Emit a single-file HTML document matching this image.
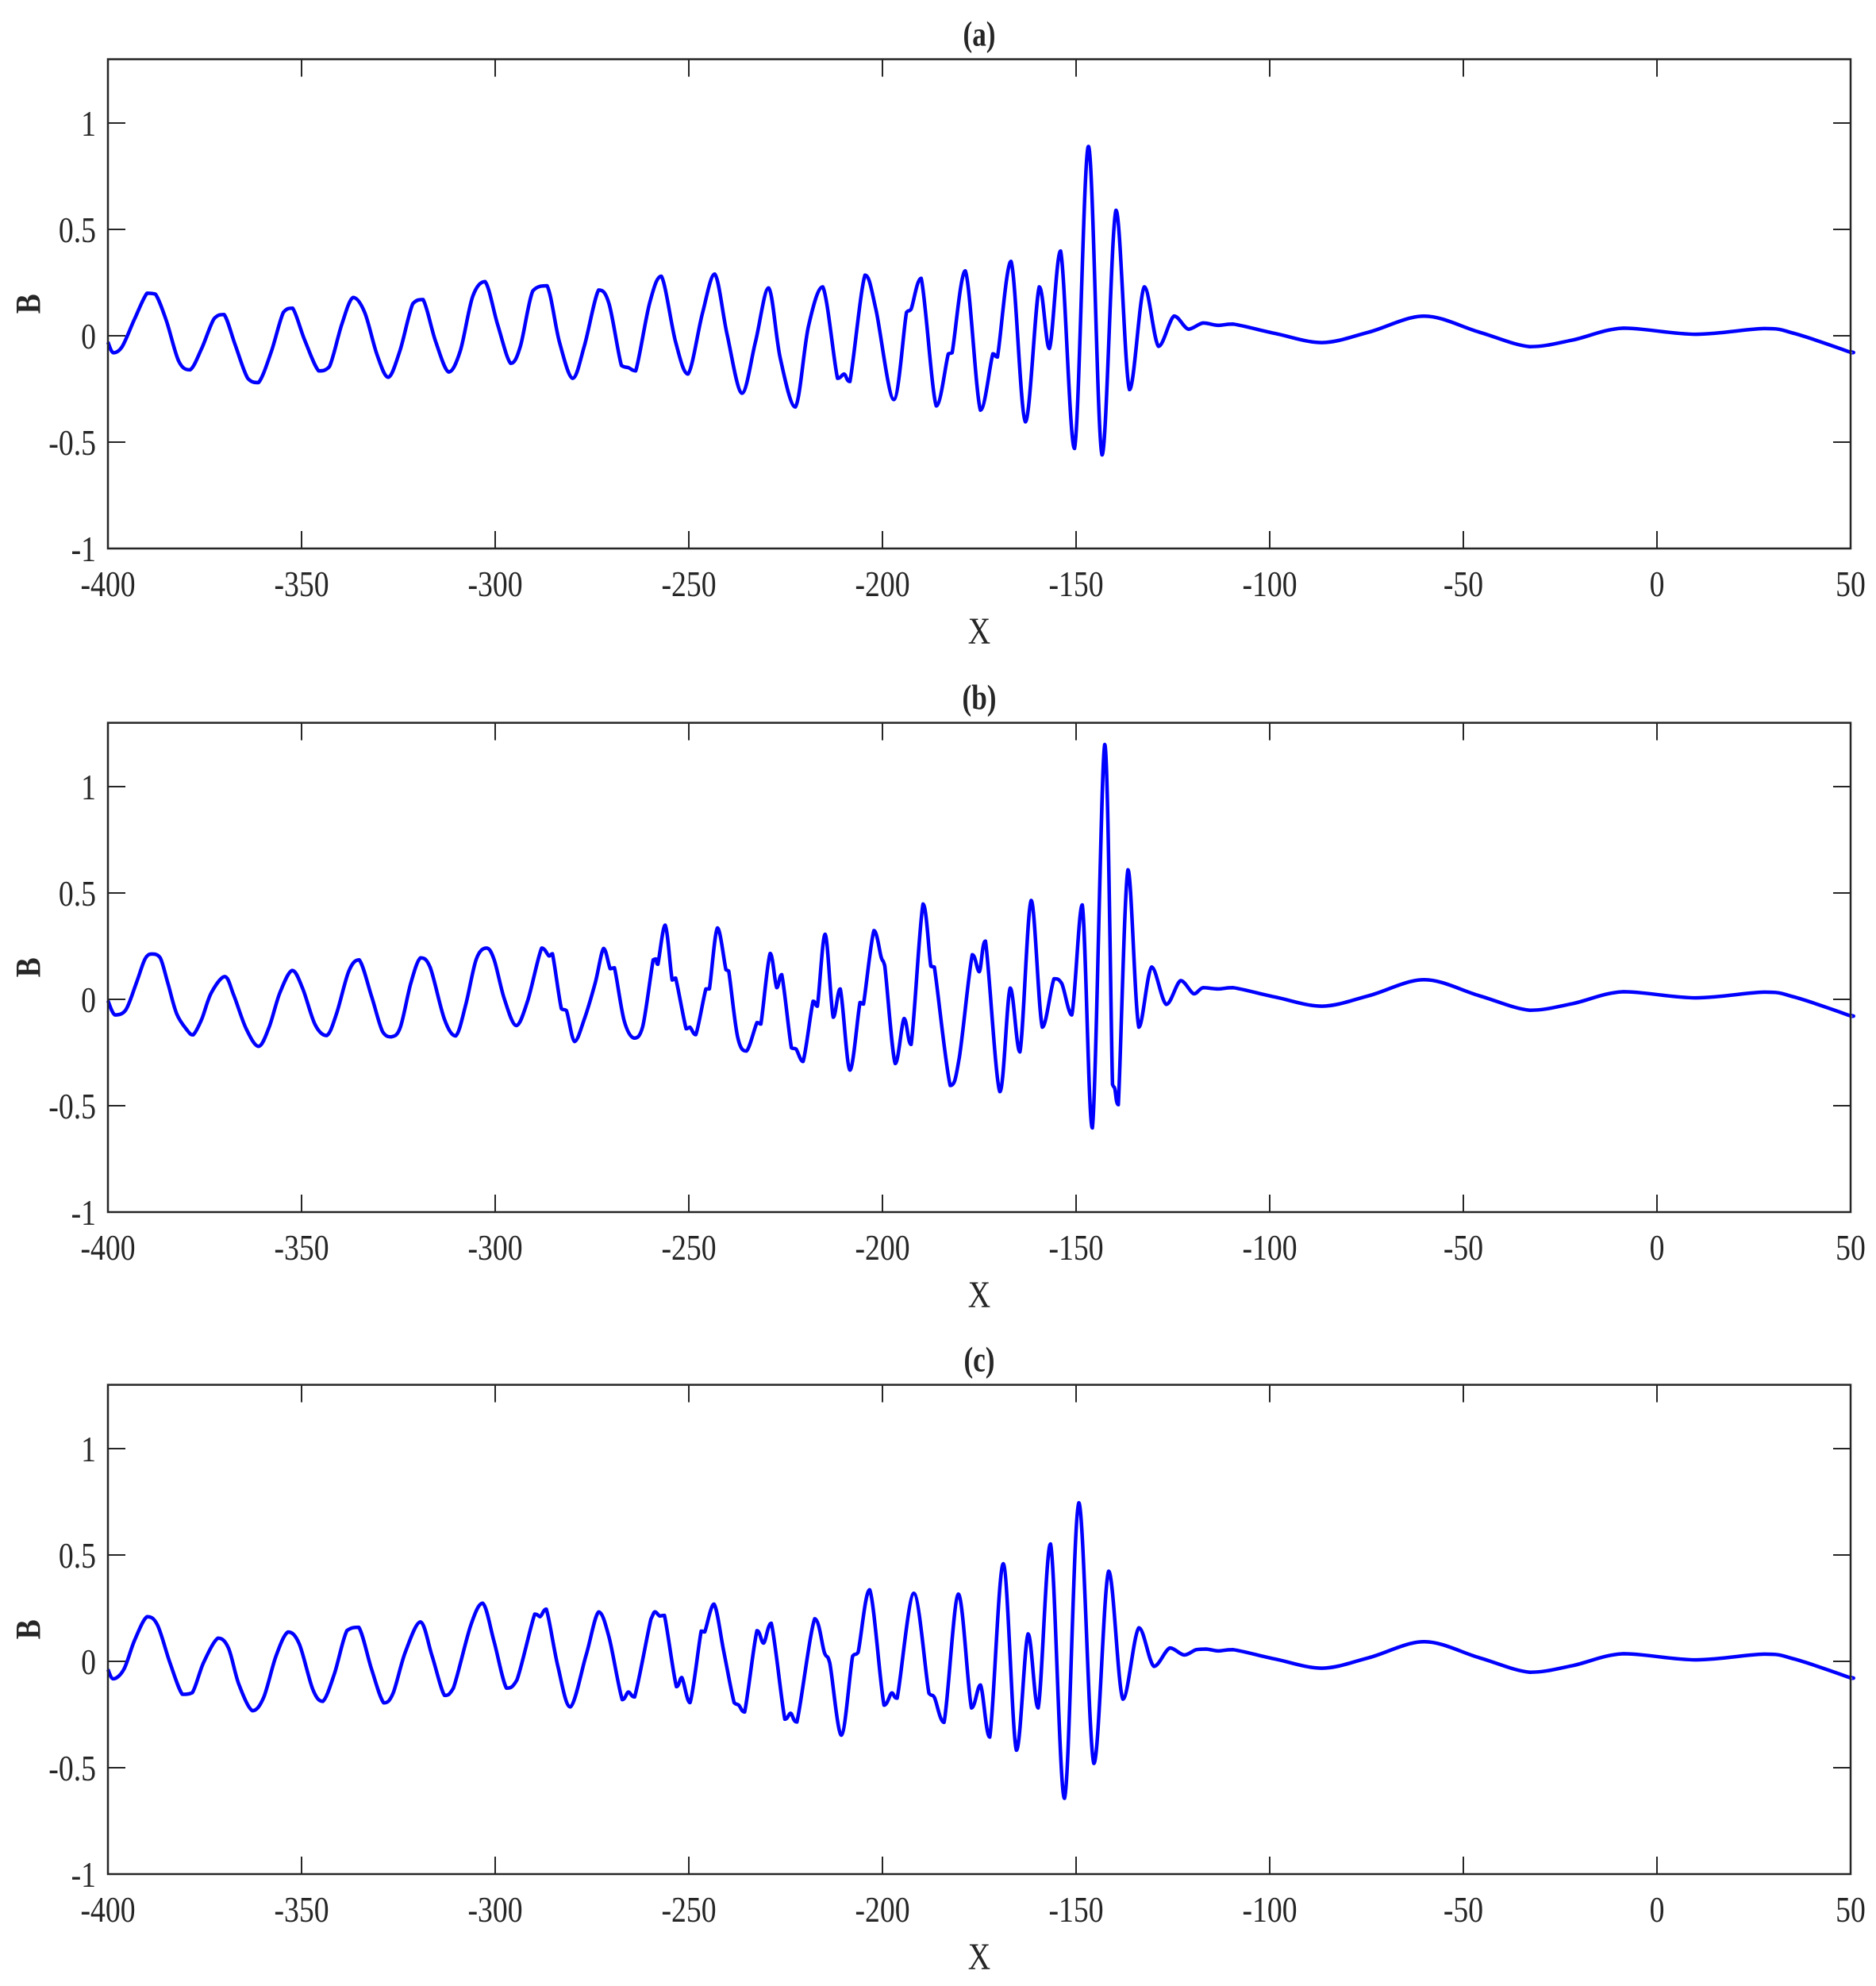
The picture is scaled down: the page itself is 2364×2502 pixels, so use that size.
<!DOCTYPE html>
<html><head><meta charset="utf-8"><title>B vs X</title>
<style>
html,body{margin:0;padding:0;background:#fff;}
svg{display:block;font-family:"Liberation Serif",serif;}
</style></head>
<body>
<svg id="fig" width="2364" height="2502" viewBox="0 0 2364 2502" xmlns="http://www.w3.org/2000/svg"></svg>
<script>
// ---- shared axis data ----
const xTicks = [-400,-350,-300,-250,-200,-150,-100,-50,0,50];
const yTicks = [-1,-0.5,0,0.5,1];
const yTickLabels = ["-1","-0.5","0","0.5","1"];
const panelTitles = ["(a)","(b)","(c)"];

// common smooth tail (same in all panels)
const tailX = [-113.3,-109.4,-98.6,-86.5,-74.4,-60.1,-45.9,-32.8,-21.8,-8.6,10,27.7,35.5,49.6,50];
const tailB = [0.049,0.055,0.011,-0.032,0.017,0.092,0.017,-0.051,-0.02,0.036,0.007,0.034,0.011,-0.075,-0.08];

// panel (a)
const aX = [-400,-398.6,-396.3,-393.1,-389.9,-387.7,-384.9,-381.7,-378.8,-375.8,-372.6,-370,-367.1,-363.9,-361.1,-357.9,-354.7,-352.3,-349.2,-345.6,-342.8,-339.6,-336.7,-333.7,-330.5,-327.6,-324.6,-321.3,-318.6,-315.4,-312,-309,-305.8,-302.6,-299.4,-296,-293.5,-290.3,-286.6,-283.4,-280,-277,-273.3,-270.6,-267.4,-265.6,-263.7,-260.1,-257.1,-253.4,-250.2,-246.5,-243.3,-240.1,-236.3,-232.8,-229.4,-226.4,-222.5,-219.1,-215.4,-211.6,-209.9,-208.4,-204.5,-201.7,-197.1,-193.8,-192.6,-190,-186.1,-183,-182,-178.6,-174.7,-171.5,-170.3,-166.8,-163.1,-159.5,-156.9,-154,-150.4,-146.8,-143.3,-139.7,-136.2,-132.4,-128.7,-124.7,-121,-117.2];
const aB = [-0.03,-0.08,-0.05,0.08,0.2,0.195,0.07,-0.12,-0.16,-0.06,0.08,0.1,-0.045,-0.2,-0.22,-0.08,0.11,0.13,-0.02,-0.165,-0.145,0.055,0.18,0.11,-0.09,-0.195,-0.07,0.15,0.17,-0.025,-0.17,-0.07,0.185,0.255,0.055,-0.13,-0.05,0.21,0.235,-0.03,-0.2,-0.05,0.215,0.15,-0.14,-0.15,-0.165,0.155,0.28,-0.03,-0.18,0.105,0.29,0.005,-0.27,-0.03,0.225,-0.105,-0.335,0.045,0.23,-0.2,-0.18,-0.215,0.285,0.125,-0.3,0.11,0.125,0.27,-0.33,-0.085,-0.08,0.305,-0.35,-0.085,-0.1,0.35,-0.405,0.23,-0.06,0.398,-0.53,0.89,-0.56,0.59,-0.253,0.23,-0.05,0.093,0.031,0.06];

// panel (b)
const bX = [-400,-398.2,-395.4,-392.7,-390.4,-388.6,-386.5,-384.5,-382.2,-379.4,-378,-375.8,-373.3,-369.8,-367.5,-364.3,-361.1,-358.4,-355.6,-352.4,-349.7,-346.5,-343.5,-341,-337.8,-335.1,-331.9,-329.1,-326.8,-324.5,-321.8,-319.3,-316.8,-313.1,-310.2,-307.6,-304.9,-302.3,-300.3,-297.7,-294.6,-291.6,-288,-286.1,-285.2,-282.9,-281.6,-279.5,-277,-274.2,-272,-270.3,-269.2,-266.7,-264.2,-261.9,-259.2,-258.5,-258,-256.1,-254.3,-253.4,-250.7,-249.7,-248.2,-245.6,-244.7,-242.6,-240.4,-239.7,-237.4,-235.1,-232.4,-231.4,-229,-227.3,-226,-223.5,-222.3,-220.5,-217.9,-216.8,-214.8,-212.7,-210.9,-208.4,-205.8,-204.9,-202.2,-200.3,-199.4,-196.7,-194.4,-192.6,-189.5,-187.5,-186.6,-182.5,-180.2,-176.8,-175,-173.4,-169.7,-167,-164.5,-161.6,-158.7,-155.7,-153.7,-151.1,-148.4,-145.8,-142.6,-140.6,-140.0,-139.1,-136.6,-133.8,-130.5,-126.7,-123,-119.6,-117.2];
const bB = [-0.006,-0.073,-0.05,0.075,0.19,0.213,0.195,0.075,-0.07,-0.148,-0.167,-0.094,0.031,0.107,0.019,-0.138,-0.221,-0.132,0.031,0.136,0.05,-0.119,-0.17,-0.069,0.132,0.186,0.013,-0.151,-0.176,-0.132,0.075,0.195,0.151,-0.094,-0.172,-0.025,0.188,0.241,0.188,0.006,-0.123,-0.006,0.241,0.204,0.214,-0.044,-0.053,-0.198,-0.094,0.075,0.239,0.144,0.148,-0.1,-0.182,-0.128,0.186,0.19,0.165,0.349,0.091,0.1,-0.138,-0.131,-0.166,0.049,0.049,0.336,0.139,0.133,-0.176,-0.243,-0.109,-0.116,0.216,0.055,0.116,-0.228,-0.234,-0.292,-0.009,-0.032,0.306,-0.084,0.049,-0.333,-0.015,-0.022,0.323,0.197,0.158,-0.302,-0.09,-0.212,0.448,0.156,0.152,-0.405,-0.279,0.21,0.13,0.274,-0.434,0.053,-0.247,0.465,-0.131,0.097,0.075,-0.073,0.444,-0.604,1.198,-0.40,-0.42,-0.495,0.609,-0.131,0.152,-0.024,0.088,0.026,0.055];

// panel (c)
const cX = [-400,-398.6,-395.9,-393.1,-389.9,-387.2,-384,-380.8,-378.2,-375.3,-371.6,-368.9,-366.2,-362.7,-359.8,-356.6,-353.5,-350.6,-347.1,-344.5,-341.5,-338.3,-335.2,-331.9,-328.8,-326.4,-323.2,-319.3,-316.3,-313.1,-310.8,-306.3,-303.2,-300.3,-297.1,-294.4,-289.8,-288.4,-286.8,-283.8,-280.6,-276.5,-273.3,-270.6,-267.2,-265.6,-264,-259.8,-258.7,-257.5,-256.3,-253.2,-251.8,-249.7,-246.8,-245.9,-243.5,-241,-238.3,-237.1,-235.6,-232.4,-230.7,-228.7,-225.2,-223.7,-222.1,-217.5,-215,-213.6,-210.6,-207.7,-206.3,-203.3,-199.6,-197.6,-196.2,-191.9,-188,-186.6,-184.1,-180.4,-177,-174.7,-172.3,-168.8,-165.4,-162.4,-159.8,-156.6,-153,-149.3,-145.4,-141.6,-137.9,-133.8,-129.9,-125.8,-122.1,-119,-116.4];
const cB = [-0.038,-0.082,-0.038,0.1,0.21,0.17,-0.006,-0.155,-0.147,-0.006,0.109,0.063,-0.107,-0.232,-0.17,0.025,0.138,0.082,-0.132,-0.188,-0.057,0.144,0.16,-0.038,-0.195,-0.151,0.044,0.185,0.025,-0.16,-0.126,0.17,0.273,0.094,-0.126,-0.088,0.222,0.21,0.245,-0.025,-0.214,0.031,0.232,0.113,-0.18,-0.144,-0.167,0.198,0.233,0.213,0.216,-0.119,-0.076,-0.194,0.142,0.138,0.269,0.049,-0.194,-0.206,-0.238,0.144,0.086,0.179,-0.272,-0.244,-0.285,0.2,0.042,-0.007,-0.347,0.024,0.042,0.337,-0.206,-0.148,-0.173,0.32,-0.15,-0.169,-0.287,0.316,-0.219,-0.111,-0.356,0.459,-0.418,0.129,-0.219,0.552,-0.644,0.745,-0.48,0.424,-0.178,0.158,-0.024,0.063,0.03,0.055,0.058];

// ---- layout ----
const L = 136, R = 2332, UNIT = 268;
const zeros = [423, 1259, 2093];
const NS = "http://www.w3.org/2000/svg";
const svg = document.getElementById('fig');

function xs(x){ return L + (x + 400) / 450 * (R - L); }
function mk(tag, attrs, parent){
  const e = document.createElementNS(NS, tag);
  for (const k in attrs) e.setAttribute(k, attrs[k]);
  (parent || svg).appendChild(e);
  return e;
}
function txt(parent, s, x, y, size, anchor, weight, sx){
  const t = mk('text', {transform:`translate(${x},${y}) scale(${sx},1)`, 'font-size':size, 'text-anchor':anchor, fill:'#262626', 'font-weight':weight}, parent);
  t.textContent = s;
  return t;
}
function clamp(v, a, b){ const lo = Math.min(a,b), hi = Math.max(a,b); return Math.max(lo, Math.min(hi, v)); }
function smoothPath(pts){
  let d = `M${pts[0][0].toFixed(1)},${pts[0][1].toFixed(1)}`;
  for (let i = 0; i < pts.length - 1; i++){
    const p0 = pts[Math.max(0,i-1)], p1 = pts[i], p2 = pts[i+1], p3 = pts[Math.min(pts.length-1,i+2)];
    const c1x = p1[0] + (p2[0]-p0[0])/6, c2x = p2[0] - (p3[0]-p1[0])/6;
    const c1y = clamp(p1[1] + (p2[1]-p0[1])/6, p1[1], p2[1]);
    const c2y = clamp(p2[1] - (p3[1]-p1[1])/6, p1[1], p2[1]);
    d += `C${c1x.toFixed(1)},${c1y.toFixed(1)} ${c2x.toFixed(1)},${c2y.toFixed(1)} ${p2[0].toFixed(1)},${p2[1].toFixed(1)}`;
  }
  return d;
}

const seriesX = [aX, bX, cX];
const seriesB = [aB, bB, cB];
const names = ['a','b','c'];

for (let p = 0; p < 3; p++){
  const z = zeros[p];
  const ys = v => z - v * UNIT;
  const top = ys(1.3), bot = ys(-1);
  const g = mk('g', {});
  
  

  const X = seriesX[p].concat(tailX), B = seriesB[p].concat(tailB);
  const pts = X.map((x, i) => [xs(x), ys(B[i])]);
  const path = mk('path', {d: smoothPath(pts), fill:'none', stroke:'#0000ff', 'stroke-width':4.5, 'stroke-linejoin':'round'}, g);
  
  

  const box = mk('rect', {x:L, y:top, width:R-L, height:bot-top, fill:'none', stroke:'#262626', 'stroke-width':2.5}, g);
  
  

  xTicks.forEach(t => {
    const x = xs(t);
    mk('line', {x1:x, y1:bot, x2:x, y2:bot-22, stroke:'#262626', 'stroke-width':2}, g);
    mk('line', {x1:x, y1:top, x2:x, y2:top+22, stroke:'#262626', 'stroke-width':2}, g);
    const lab = txt(g, String(t), x, bot + 60, 46, 'middle', 'normal', 0.82);
    
    
  });
  yTicks.forEach((t, i) => {
    const y = ys(t);
    mk('line', {x1:L, y1:y, x2:L+22, y2:y, stroke:'#262626', 'stroke-width':2}, g);
    mk('line', {x1:R, y1:y, x2:R-22, y2:y, stroke:'#262626', 'stroke-width':2}, g);
    const lab = txt(g, yTickLabels[i], 121, y + 16, 46, 'end', 'normal', 0.82);
    
    
  });
  const xl = txt(g, 'X', (L+R)/2, bot + 120, 48, 'middle', 'normal', 0.82);
  
  
  const yl = mk('text', {transform:`translate(50,${(top+bot)/2}) rotate(-90) scale(0.85,1)`, 'font-size':44, 'text-anchor':'middle', fill:'#262626', 'font-weight':'bold'}, g);
  yl.textContent = 'B';
  
  
  const tt = txt(g, panelTitles[p], (L+R)/2, top - 17, 44, 'middle', 'bold', 0.8);
  
  
}
</script>
</body></html>
